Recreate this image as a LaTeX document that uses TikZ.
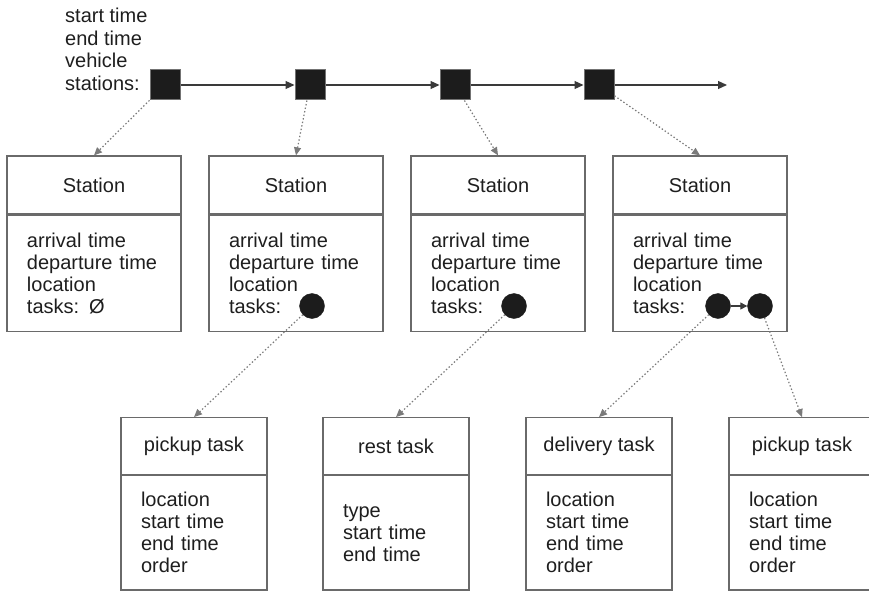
\documentclass[tikz,border=0pt]{standalone}
\usepackage{fontspec}
\setmainfont{Liberation Sans}
\usetikzlibrary{arrows.meta, positioning}
\definecolor{boxgray}{HTML}{6A6A6A}
\definecolor{linegray}{HTML}{3A3A3A}
\definecolor{dotgray}{HTML}{7A7A7A}
\definecolor{nodefill}{HTML}{1C1C1C}
\definecolor{tdark}{HTML}{1E1E1E}

\begin{document}
\begin{tikzpicture}[
    x=1pt, y=-1pt,
    txt/.style={font=\fontsize{20}{22}\selectfont, text=tdark},
    sqnode/.style={
      rectangle, draw=black!55, fill=nodefill, line width=1pt,
      minimum size=30pt, inner sep=0pt
    },
    tkdot/.style={circle, draw=nodefill, fill=nodefill, minimum size=25pt, inner sep=0pt},
    stationhead/.style={
      txt, rectangle, draw=boxgray, line width=1.3pt,
      minimum width=174pt, minimum height=58pt, inner sep=0pt
    },
    stationbody/.style={
      txt, rectangle, draw=boxgray, line width=1.3pt, align=left,
      text width=134pt, inner xsep=20pt, inner ysep=0pt, minimum height=116pt
    },
    taskhead/.style={stationhead, minimum width=146pt, minimum height=56.5pt},
    taskbody/.style={stationbody, text width=106pt, minimum height=114.5pt},
    link/.style={-{Triangle[length=9pt, width=8pt]}, line width=1.2pt, draw=linegray},
    ref/.style={
      -{Triangle[length=8pt, width=7pt]}, line width=1.2pt, draw=dotgray,
      dash pattern=on 1.4pt off 2.2pt
    }
  ]
  \useasboundingbox (0,0) rectangle (869,591);

  % Tour
  \node[txt, align=left, anchor=north west, inner sep=0pt,
        font=\fontsize{20}{22.5}\selectfont] (tour) at (65,8)
        {start time\\end time\\vehicle\\stations:};
  \node[sqnode] (sq1) at (165,85) {};
  \node[sqnode] (sq2) at (310,85) {};
  \node[sqnode] (sq3) at (455,85) {};
  \node[sqnode] (sq4) at (599,85) {};
  \coordinate (tourend) at (727,85);

  \draw[link] (sq1) -- (sq2);
  \draw[link] (sq2) -- (sq3);
  \draw[link] (sq3) -- (sq4);
  \draw[link] (sq4) -- (tourend);

  % Stations
  \node[stationhead] (st1h) at (94,185)  {Station};
  \node[stationhead] (st2h) at (296,185) {Station};
  \node[stationhead] (st3h) at (498,185) {Station};
  \node[stationhead] (st4h) at (700,185) {Station};
  \node[stationbody, below=0pt of st1h] (st1b) {arrival time\\departure time\\location\\tasks: Ø};
  \node[stationbody, below=0pt of st2h] (st2b) {arrival time\\departure time\\location\\tasks:};
  \node[stationbody, below=0pt of st3h] (st3b) {arrival time\\departure time\\location\\tasks:};
  \node[stationbody, below=0pt of st4h] (st4b) {arrival time\\departure time\\location\\tasks:};

  \draw[ref] (sq1) -- (st1h.north);
  \draw[ref] (sq2) -- (st2h.north);
  \draw[ref] (sq3) -- (st3h.north);
  \draw[ref] (sq4) -- (st4h.north);

  % Task lists
  \node[tkdot] (tk2)  at (312,306) {};
  \node[tkdot] (tk3)  at (514,306) {};
  \node[tkdot] (tk4a) at (718,306) {};
  \node[tkdot] (tk4b) at (760,306) {};
  \draw[-{Triangle[length=7pt, width=7pt]}, line width=1.2pt, draw=linegray] (tk4a) -- (tk4b);

  % Tasks
  \node[taskhead] (t1h) at (194,446) {pickup task};
  \node[taskhead] (t2h) at (396,446) {rest task};
  \node[taskhead] (t3h) at (599,446) {delivery task};
  \node[taskhead] (t4h) at (802,446) {pickup task};
  \node[taskbody, below=0pt of t1h] (t1b) {location\\start time\\end time\\order};
  \node[taskbody, below=0pt of t2h] (t2b) {type\\start time\\end time};
  \node[taskbody, below=0pt of t3h] (t3b) {location\\start time\\end time\\order};
  \node[taskbody, below=0pt of t4h] (t4b) {location\\start time\\end time\\order};

  \draw[ref] (tk2)  -- (t1h.north);
  \draw[ref] (tk3)  -- (t2h.north);
  \draw[ref] (tk4a) -- (t3h.north);
  \draw[ref] (tk4b) -- (t4h.north);

\end{tikzpicture}
\end{document}
